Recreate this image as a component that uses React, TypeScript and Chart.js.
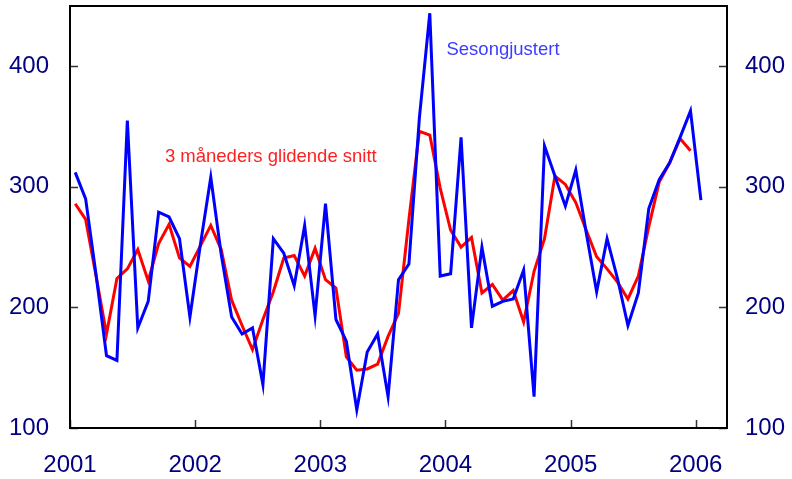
import React, { useEffect, useRef } from 'react';
import { Chart, registerables } from 'chart.js';

Chart.register(...registerables);

// Monthly data, Jan 2001 – Jan 2006
const sesongjustert = [
  312, 290, 227, 160, 156, 355, 183, 205, 279, 275, 257, 192,
  252, 308, 244, 192, 178, 183, 136, 257, 245, 218, 268, 193,
  286, 190, 172, 115, 163, 178, 126, 223, 236, 357, 444, 226,
  228, 341, 183, 250, 201, 205, 207, 231, 126, 334, 309, 284,
  314, 262, 213, 257, 224, 185, 212, 282, 306, 320, 341, 363,
  289,
];

// 3-month centred moving average, Jan 2001 – Dec 2005
const glidendeSnitt = [
  286, 273, 226, 178, 224, 232, 248, 222, 253, 269, 241, 234,
  251, 268, 248, 206, 185, 165, 190, 213, 241, 243, 226, 249,
  223, 216, 159, 148, 149, 153, 176, 195, 273, 346, 343, 299,
  264, 250, 258, 212, 219, 206, 214, 188, 230, 257, 309, 302,
  287, 264, 242, 232, 221, 207, 226, 267, 304, 320, 340, 330,
];

const yearLabels = ['2001', '2002', '2003', '2004', '2005', '2006'];
const yTickValues = [100, 200, 300, 400];
const seriesLabels = ['Sesongjustert', '3 måneders glidende snitt'];

const FONT = '"Liberation Sans", Arial, sans-serif';
const NAVY = '#000080';

const framePlugin = {
  id: 'frame',
  afterDraw(chart: any) {
    const { ctx, chartArea, scales } = chart;
    const { left, right, top, bottom } = chartArea;
    ctx.save();
    // inward tick marks
    ctx.strokeStyle = '#333';
    ctx.lineWidth = 1.5;
    ctx.beginPath();
    for (const v of yTickValues) {
      const y = Math.round(scales.y.getPixelForValue(v)) + 0.5;
      ctx.moveTo(left, y);
      ctx.lineTo(left + 8, y);
      ctx.moveTo(right - 8, y);
      ctx.lineTo(right, y);
    }
    yearLabels.forEach((_, i) => {
      const x = Math.round(scales.x.getPixelForValue(i * 12)) + 0.5;
      ctx.moveTo(x, bottom);
      ctx.lineTo(x, bottom - 8);
    });
    ctx.stroke();
    // frame
    ctx.strokeStyle = '#000';
    ctx.lineWidth = 2;
    ctx.strokeRect(left, top, right - left, bottom - top);
    // annotations
    ctx.font = `18.5px ${FONT}`;
    ctx.textBaseline = 'alphabetic';
    ctx.textAlign = 'left';
    ctx.fillStyle = '#3c3cff';
    ctx.fillText(seriesLabels[0], scales.x.getPixelForValue(36.1), scales.y.getPixelForValue(409));
    ctx.fillStyle = '#ff2020';
    ctx.fillText(seriesLabels[1], scales.x.getPixelForValue(9.1), scales.y.getPixelForValue(321));
    ctx.restore();
  },
};

const noPad = (s: any) => {
  s.paddingTop = 0;
  s.paddingBottom = 0;
  s.paddingLeft = 0;
  s.paddingRight = 0;
};

export default function App() {
  const canvasRef = useRef<HTMLCanvasElement | null>(null);

  useEffect(() => {
    if (!canvasRef.current) return;
    const blue = sesongjustert.map((v, i) => ({ x: i + 0.5, y: v }));
    const red = glidendeSnitt.map((v, i) => ({ x: i + 0.5, y: v }));
    const tickFont = { family: FONT, size: 24 };
    const chart = new Chart(canvasRef.current, {
      type: 'line',
      data: {
        datasets: [
          {
            label: seriesLabels[0],
            data: blue,
            borderColor: '#0000ff',
            borderWidth: 3,
            pointRadius: 0,
            tension: 0,
            yAxisID: 'y',
          },
          {
            label: seriesLabels[1],
            data: red,
            borderColor: '#ff0000',
            borderWidth: 3,
            pointRadius: 0,
            tension: 0,
            yAxisID: 'y',
          },
        ],
      },
      options: {
        animation: false,
        responsive: true,
        maintainAspectRatio: false,
        layout: { padding: { top: 6, left: 0, right: 0, bottom: 0 } },
        plugins: { legend: { display: false }, tooltip: { enabled: false } },
        scales: {
          x: {
            type: 'linear',
            min: 0,
            max: 63,
            grid: { display: false, drawTicks: false },
            border: { display: false },
            afterFit: (s: any) => { s.height = 51; noPad(s); },
            ticks: {
              stepSize: 12,
              includeBounds: false,
              autoSkip: false,
              maxRotation: 0,
              padding: 23,
              color: NAVY,
              font: tickFont,
              callback: (v: any) => yearLabels[Math.round(Number(v) / 12)] ?? '',
            },
          },
          y: {
            type: 'linear',
            position: 'left',
            min: 100,
            max: 450,
            grid: { display: false, drawTicks: false },
            border: { display: false },
            afterFit: (s: any) => { s.width = 70; noPad(s); },
            ticks: { stepSize: 100, includeBounds: false, padding: 21, color: NAVY, font: tickFont },
          },
          y2: {
            type: 'linear',
            position: 'right',
            min: 100,
            max: 450,
            grid: { display: false, drawTicks: false },
            border: { display: false },
            afterFit: (s: any) => { s.width = 65; noPad(s); },
            ticks: { stepSize: 100, includeBounds: false, padding: 18, color: NAVY, font: tickFont },
          },
        },
      },
      plugins: [framePlugin],
    });
    return () => chart.destroy();
  }, []);

  return (
    <div style={{ position: 'absolute', left: 0, top: 0, width: 792, height: 479, background: '#fff' }}>
      <canvas ref={canvasRef} />
    </div>
  );
}
